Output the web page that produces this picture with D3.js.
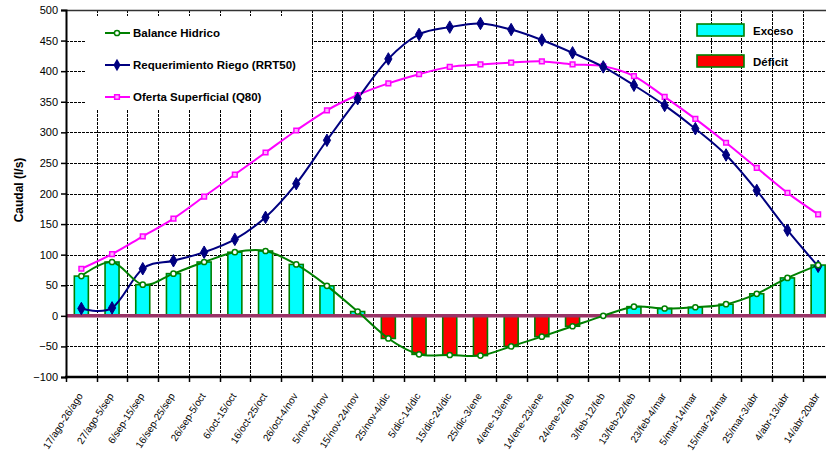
<!DOCTYPE html>
<html><head><meta charset="utf-8">
<script src="https://cdn.jsdelivr.net/npm/d3@7"></script>
<style>body{margin:0;background:#fff}svg{display:block;font-family:"Liberation Sans",Arial,sans-serif}</style>
</head><body>
<svg id="c" width="826" height="454"></svg>
<script>
const categories = ["17/ago-26/ago","27/ago-5/sep","6/sep-15/sep","16/sep-25/sep","26/sep-5/oct","6/oct-15/oct","16/oct-25/oct","26/oct-4/nov","5/nov-14/nov","15/nov-24/nov","25/nov-4/dic","5/dic-14/dic","15/dic-24/dic","25/dic-3/ene","4/ene-13/ene","14/ene-23/ene","24/ene-2/feb","3/feb-12/feb","13/feb-22/feb","23/feb-4/mar","5/mar-14/mar","15/mar-24/mar","25/mar-3/abr","4/abr-13/abr","14/abr-20abr"];
const balance = [65,88,51,69,88,104,106,84,49,7,-37,-63,-64,-65,-50,-34,-17,0,15,12,14,19,36,62,83];
const requerimiento = [12,13,77,90,104,125,161,216,287,355,420,460,472,478,468,451,430,407,377,344,306,263,205,140,81];
const oferta = [77,101,130,159,195,231,267,303,336,361,380,395,407,411,414,416,411,408,392,358,322,283,242,201,166];
const yTicks = [-100,-50,0,50,100,150,200,250,300,350,400,450,500];
const seriesNames = ["Balance Hidrico","Requerimiento Riego (RRT50)","Oferta Superficial (Q80)"];
const barNames = ["Exceso","Déficit"];

const svg = d3.select("#c");
const L = 66, T = 10, B = 377, bw = 30.7;
const x = d3.scaleBand().domain(categories).range([L, L + bw*categories.length]).padding(0);
const y = d3.scaleLinear().domain([-100,500]).range([B, T]);
const cx = d => x(d) + x.bandwidth()/2;
const green = "#008000", navy = "#000080", magenta = "#ff00ff";

// gridlines
const grid = svg.append("g").attr("stroke","#000").attr("stroke-width",1).attr("stroke-dasharray","3,1");
yTicks.filter(v => v > -100 && v < 500).forEach(v => {
  grid.append("line").attr("x1",L).attr("x2",826).attr("y1",Math.round(y(v))+0.5).attr("y2",Math.round(y(v))+0.5);
});
categories.slice(1).forEach(c => {
  grid.append("line").attr("x1",Math.round(x(c))+0.5).attr("x2",Math.round(x(c))+0.5).attr("y1",T).attr("y2",B);
});
// top border
svg.append("line").attr("x1",L).attr("x2",826).attr("y1",T+0.5).attr("y2",T+0.5).attr("stroke","#333").attr("stroke-width",1.5);

// legend box background (covers grid)
svg.append("rect").attr("x",85).attr("y",16).attr("width",227).attr("height",94).attr("fill","#fff");

// bars
const barW = 14;
svg.append("g").selectAll("rect").data(categories.map((c,i)=>({c,v:balance[i]})).filter(d=>d.v!==0))
 .join("rect")
 .attr("x",d=>cx(d.c)-barW/2).attr("width",barW)
 .attr("y",d=>y(Math.max(0,d.v))).attr("height",d=>Math.abs(y(d.v)-y(0)))
 .attr("fill",d=>d.v>0?"#00ffff":"#ff0000").attr("stroke",green).attr("stroke-width",1.6);

// zero line
svg.append("line").attr("x1",L).attr("x2",826).attr("y1",y(0)).attr("y2",y(0)).attr("stroke","#993366").attr("stroke-width",3.5);

// axes
const yAxis = d3.axisLeft(y).tickValues(yTicks).tickSize(5).tickPadding(3).tickFormat(d3.format("d"));
const ga = svg.append("g").attr("transform",`translate(${L},0)`).call(yAxis);
ga.select(".domain").attr("stroke","#000").attr("stroke-width",2);
ga.selectAll(".tick line").attr("stroke","#000").attr("stroke-width",1.5);
ga.selectAll("text").attr("font-size",11).attr("fill","#000").attr("font-family","Liberation Sans, Arial");

const xb = svg.append("g");
xb.append("line").attr("x1",L-1).attr("x2",826).attr("y1",B).attr("y2",B).attr("stroke","#000").attr("stroke-width",2.5);
categories.forEach(c => {
  xb.append("line").attr("x1",Math.round(x(c))+0.5).attr("x2",Math.round(x(c))+0.5).attr("y1",B).attr("y2",B+5).attr("stroke","#000").attr("stroke-width",1.5);
  xb.append("text").attr("transform",`translate(${cx(c)-1},${B+17}) rotate(-57)`)
    .attr("text-anchor","end").attr("dy","0.35em").attr("font-size",10).attr("fill","#000").text(c);
});

// y label
svg.append("text").attr("transform","translate(19,190) rotate(-90)").attr("text-anchor","middle").attr("dy","0.35em")
  .attr("font-size",12).attr("font-weight","bold").text("Caudal (l/s)");

// lines
const curve = d3.curveCardinal.tension(0);
const lineGen = vals => d3.line().x((d,i)=>cx(categories[i])).y(d=>y(d)).curve(curve)(vals);
svg.append("path").attr("d",lineGen(oferta)).attr("fill","none").attr("stroke",magenta).attr("stroke-width",2);
svg.append("path").attr("d",lineGen(requerimiento)).attr("fill","none").attr("stroke",navy).attr("stroke-width",2);
svg.append("path").attr("d",lineGen(balance)).attr("fill","none").attr("stroke",green).attr("stroke-width",2);

const diamond = d3.symbol().type(d3.symbolDiamond).size(45);
const square = d3.symbol().type(d3.symbolSquare).size(22);
svg.append("g").selectAll("path").data(oferta).join("path")
  .attr("transform",(d,i)=>`translate(${cx(categories[i])},${y(d)})`).attr("d",square)
  .attr("fill","#ffb0ff").attr("stroke",magenta).attr("stroke-width",1.5);
svg.append("g").selectAll("path").data(requerimiento).join("path")
  .attr("transform",(d,i)=>`translate(${cx(categories[i])},${y(d)})`).attr("d",diamond)
  .attr("fill",navy).attr("stroke",navy);
svg.append("g").selectAll("circle").data(balance).join("circle")
  .attr("cx",(d,i)=>cx(categories[i])).attr("cy",d=>y(d)).attr("r",2.6)
  .attr("fill","#fff").attr("stroke",green).attr("stroke-width",1.5);

// left legend
const lg = svg.append("g");
const ly = [33,65,97];
const lcol = [green,navy,magenta];
seriesNames.forEach((n,i)=>{
  lg.append("line").attr("x1",105).attr("x2",130).attr("y1",ly[i]).attr("y2",ly[i]).attr("stroke",lcol[i]).attr("stroke-width",2);
  if(i===0) lg.append("circle").attr("cx",117).attr("cy",ly[i]).attr("r",2.6).attr("fill","#fff").attr("stroke",green).attr("stroke-width",1.5);
  if(i===1) lg.append("path").attr("transform",`translate(117,${ly[i]})`).attr("d",diamond).attr("fill",navy);
  if(i===2) lg.append("path").attr("transform",`translate(117,${ly[i]})`).attr("d",square).attr("fill","#ffb0ff").attr("stroke",magenta).attr("stroke-width",1.5);
  lg.append("text").attr("x",133).attr("y",ly[i]).attr("dy","0.35em").attr("font-size",11.5).attr("font-weight","bold").text(n);
});
// right legend
const rg = svg.append("g");
const ry = [30,61];
const rfill = ["#00ffff","#ff0000"];
barNames.forEach((n,i)=>{
  rg.append("rect").attr("x",697).attr("y",ry[i]-6).attr("width",47).attr("height",12).attr("fill",rfill[i]).attr("stroke",green).attr("stroke-width",1.6);
  rg.append("text").attr("x",753).attr("y",ry[i]+1).attr("dy","0.35em").attr("font-size",11.5).attr("font-weight","bold").text(n);
});
</script>
</body></html>
